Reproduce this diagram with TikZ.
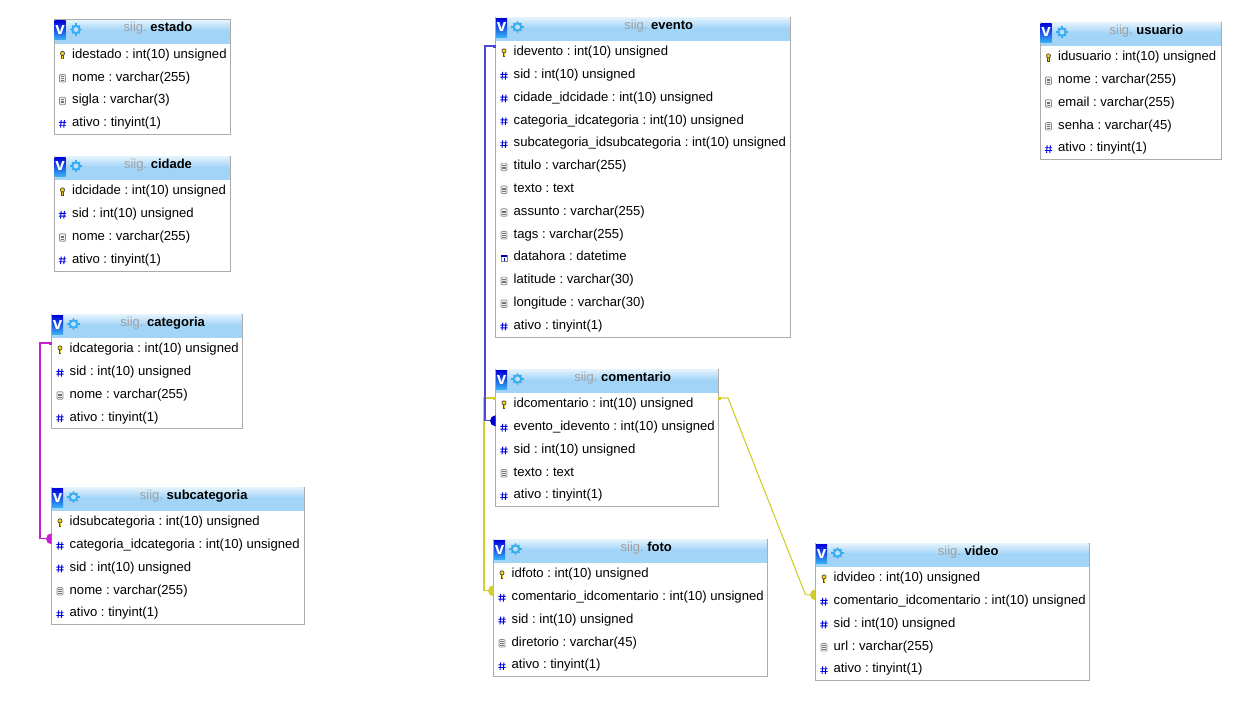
\documentclass[tikz,border=0pt]{standalone}
\usepackage{fontspec}
\usetikzlibrary{calc}
\setmainfont{Liberation Sans}
\frenchspacing
\definecolor{hdr}{HTML}{A2D4F8}
\definecolor{edge}{HTML}{ABABAB}
\definecolor{mag}{HTML}{C81CD2}
\definecolor{blu}{HTML}{4A4AD8}
\definecolor{yel}{HTML}{D2CE2C}
\definecolor{gearc}{HTML}{38ADF4}
\definecolor{titlegray}{HTML}{A0A0A0}
\tikzset{
  x=1pt,y=-1pt,
  tablebox/.style={draw=edge,line width=1pt,fill=white,inner sep=0pt,outer sep=0pt},
  vtile/.style={inner sep=0pt,outer sep=0pt,top color=blue!85!black,bottom color=gearc,minimum width=11pt,minimum height=19pt,text=white,font=\bfseries\fontsize{17}{17}\selectfont},
  titletext/.style={inner sep=0pt,font=\fontsize{13}{15}\selectfont},
  rowtext/.style={inner sep=0pt,anchor=base west,font=\fontsize{13.1}{15}\selectfont},
  link/.style={line width=1.1pt},
  pics/ik/.style={code={
    \draw[black!70,line width=2.3pt] (0,-.5) -- (0,3.6);
    \draw[yellow!70!orange,line width=.8pt] (0,-.5) -- (0,3.2);
    \draw[black!70,fill=yellow!70!orange,line width=.7pt] (0,-2) circle (2.1);
  }},
  pics/id/.style={code={
    \draw[black!45,fill=black!6,rounded corners=1pt,line width=.7pt] (-3,-3.8) rectangle (3,3.8);
    \draw[black!55,line width=.5pt] (-1.6,-1.7) -- (1.6,-1.7) (-1.6,0) -- (1.6,0) (-1.6,1.7) -- (1.6,1.7);
  }},
  pics/ih/.style={code={
    \draw[blue!90!black,line width=.9pt] (-1.3,-3.8) -- (-1.9,3.8) (1.9,-3.8) -- (1.3,3.8) (-3.6,-1.4) -- (3.6,-1.4) (-3.6,1.4) -- (3.6,1.4);
  }},
  pics/ic/.style={code={
    \draw[black!50,fill=white,line width=.6pt] (-3.2,-3.2) rectangle (3.2,3.4);
    \fill[blue!70!black] (-3.2,-3.2) rectangle (3.2,-1.6);
    \draw[blue!70!black,line width=.8pt] (0,-.6) -- (0,2.6);
  }},
  pics/gearicon/.style={code={
    \foreach \a in {0,90,180,270} \draw[gearc,line width=1.6pt] (0,0) -- (\a:6.4);
    \foreach \a in {45,135,225,315} \draw[gearc,line width=1.2pt] (0,0) -- (\a:5.6);
    \fill[white!30!hdr] (0,0) circle (2.6);
    \draw[gearc,line width=2pt] (0,0) circle (3.8);
  }},
}
% id, left, top, right, bottom, title, rows
\newcommand{\dbtable}[7]{%
  \pgfmathsetmacro{\tabw}{#4-#2}\pgfmathsetmacro{\tabh}{#5-#3}%
  \pgfmathsetmacro{\cx}{(#2+#4)/2}\pgfmathsetmacro{\cy}{(#3+#5)/2}%
  \node[tablebox,minimum width=\tabw pt,minimum height=\tabh pt] (#1) at (\cx,\cy) {};
  \shade[top color=white!70!hdr,bottom color=hdr] (#2+.5,#3+.5) rectangle (#4-.5,#3+11);
  \fill[hdr] (#2+.5,#3+11) rectangle (#4-.5,#3+24);
  \pgfmathsetmacro{\vx}{#2+6}\pgfmathsetmacro{\vy}{#3+10.5}%
  \node[vtile] (#1-v) at (\vx,\vy) {v};
  \pgfmathsetmacro{\gx}{#2+22}\pgfmathsetmacro{\gy}{#3+10}%
  \pic at (\gx,\gy) {gearicon};
  \pgfmathsetmacro{\tx}{\cx+16}\pgfmathsetmacro{\ty}{#3+9}%
  \node[titletext] (#1-t) at (\tx,\ty) {\textcolor{titlegray}{siig.} \textbf{#6}};
  \foreach \ic/\txt [count=\i from 0] in {#7} {
    \pgfmathsetmacro{\ry}{#3+38.7+\i*22.8}
    \pgfmathsetmacro{\rx}{#2+18}
    \pgfmathsetmacro{\ix}{#2+8.5}
    \pgfmathsetmacro{\iy}{\ry-2.8}
    \pgfmathsetmacro{\py}{\ry-9.7}
    \pic at (\ix,\iy) {i\ic};
    \node[rowtext] (#1-r\i) at (\rx,\ry) {\txt};
    \coordinate (#1-p\i) at (#2,\py);
    \coordinate (#1-q\i) at (#4,\py);
  }
}
\begin{document}
\begin{tikzpicture}
\useasboundingbox (0,0) rectangle (1244,716);
\fill[white] (0,0) rectangle (1244,716);

\dbtable{estado}{54}{19.5}{230}{134}{estado}{k/idestado : int(10) unsigned,d/nome : varchar(255),d/sigla : varchar(3),h/ativo : tinyint(1)}
\dbtable{cidade}{54}{156}{230}{271}{cidade}{k/idcidade : int(10) unsigned,h/sid : int(10) unsigned,d/nome : varchar(255),h/ativo : tinyint(1)}
\dbtable{categoria}{51.5}{314}{242}{428}{categoria}{k/idcategoria : int(10) unsigned,h/sid : int(10) unsigned,d/nome : varchar(255),h/ativo : tinyint(1)}
\dbtable{subcategoria}{51.5}{487}{304}{624}{subcategoria}{k/idsubcategoria : int(10) unsigned,h/categoria\_idcategoria : int(10) unsigned,h/sid : int(10) unsigned,d/nome : varchar(255),h/ativo : tinyint(1)}
\dbtable{evento}{495.5}{17}{790}{337}{evento}{k/idevento : int(10) unsigned,h/sid : int(10) unsigned,h/cidade\_idcidade : int(10) unsigned,h/categoria\_idcategoria : int(10) unsigned,h/subcategoria\_idsubcategoria : int(10) unsigned,d/titulo : varchar(255),d/texto : text,d/assunto : varchar(255),d/tags : varchar(255),c/datahora : datetime,d/latitude : varchar(30),d/longitude : varchar(30),h/ativo : tinyint(1)}
\dbtable{comentario}{495.5}{369}{718}{506}{comentario}{k/idcomentario : int(10) unsigned,h/evento\_idevento : int(10) unsigned,h/sid : int(10) unsigned,d/texto : text,h/ativo : tinyint(1)}
\dbtable{foto}{493.5}{539}{767}{676}{foto}{k/idfoto : int(10) unsigned,h/comentario\_idcomentario : int(10) unsigned,h/sid : int(10) unsigned,d/diretorio : varchar(45),h/ativo : tinyint(1)}
\dbtable{video}{815.5}{543}{1089}{680}{video}{k/idvideo : int(10) unsigned,h/comentario\_idcomentario : int(10) unsigned,h/sid : int(10) unsigned,d/url : varchar(255),h/ativo : tinyint(1)}
\dbtable{usuario}{1040}{22}{1221}{159}{usuario}{k/idusuario : int(10) unsigned,d/nome : varchar(255),d/email : varchar(255),d/senha : varchar(45),h/ativo : tinyint(1)}

% yellow connectors
\draw[link,yel] (comentario-p0) -- ++(-11.5,0) |- (foto-p1);
\draw[link,yel] (comentario-q0) -- ++(10,0) -- ($(video-p1)+(-10,0)$) -- (video-p1);
\fill[yel] (comentario-p0) ++(-3,-1.5) rectangle ++(3,3);
\fill[yel] (comentario-q0) ++(0,-1.5) rectangle ++(3,3);
\fill[yel] (foto-p1) ++(0,-5.5) arc[start angle=270,end angle=90,radius=5.5] -- cycle;
\fill[yel] (video-p1) ++(0,-5.5) arc[start angle=270,end angle=90,radius=5.5] -- cycle;
% blue connector
\draw[link,blu] (evento-p0) -- ++(-10.5,0) |- (comentario-p1);
\fill[blu] (evento-p0) ++(-3,-1.5) rectangle ++(3,3);
\fill[blue!80!black] (comentario-p1) ++(0,-5.5) arc[start angle=270,end angle=90,radius=5.5] -- cycle;
% magenta connector
\draw[link,mag] (categoria-p0) -- ++(-11.5,0) |- (subcategoria-p1);
\fill[mag] (categoria-p0) ++(-3,-1.5) rectangle ++(3,3);
\fill[mag] (subcategoria-p1) ++(0,-5.5) arc[start angle=270,end angle=90,radius=5.5] -- cycle;
\end{tikzpicture}
\end{document}
